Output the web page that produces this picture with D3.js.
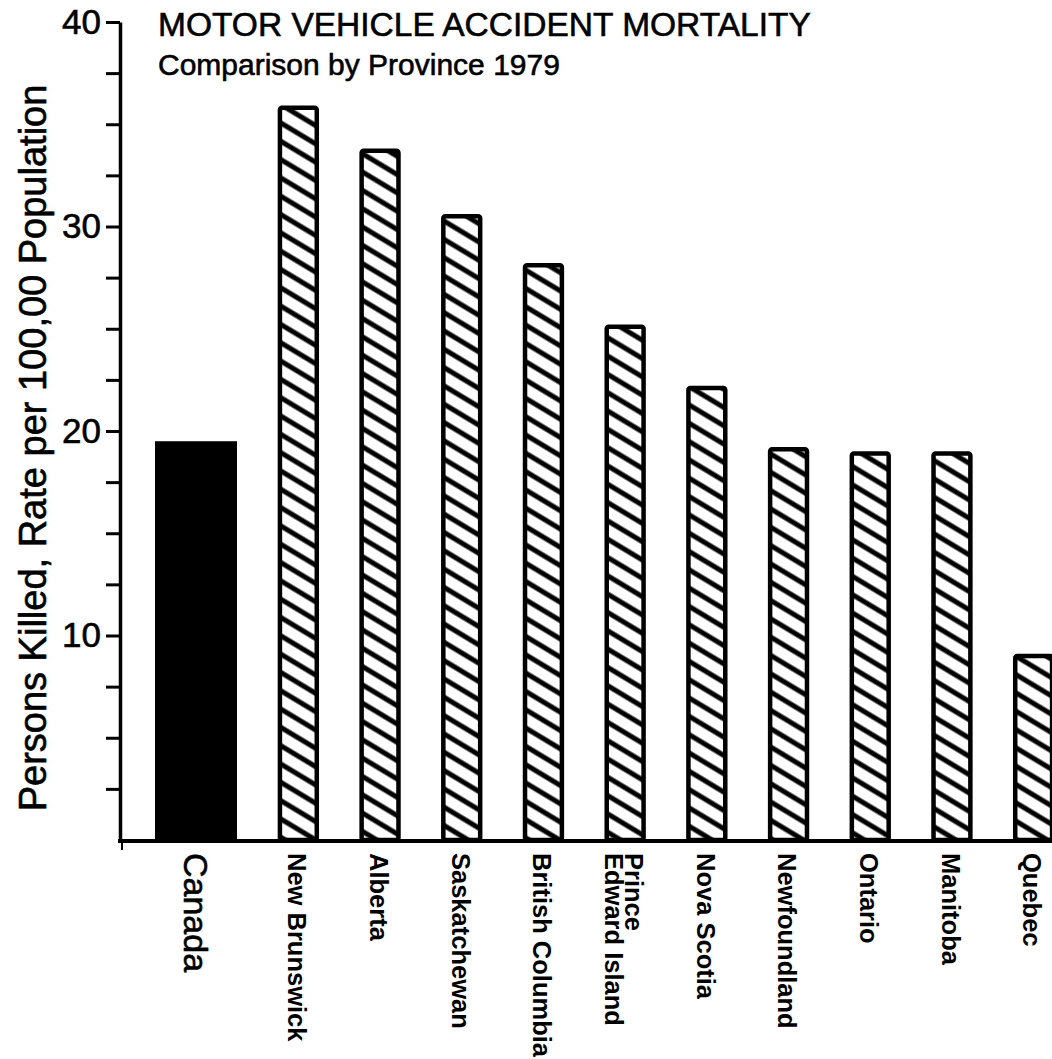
<!DOCTYPE html>
<html>
<head>
<meta charset="utf-8">
<script src="https://cdn.jsdelivr.net/npm/d3@7"></script>
<style>
  html, body { margin: 0; padding: 0; background: #fff; }
  svg { display: block; font-family: "Liberation Sans", Arial, Helvetica, sans-serif; }
</style>
</head>
<body>
<svg id="chart" width="1052" height="1059"></svg>
<script>
// ---- data ----
const nationalCategory = ["Canada"];
const nationalValue = [19.5];
const provinces = ["New Brunswick", "Alberta", "Saskatchewan", "British Columbia",
  "Prince Edward Island", "Nova Scotia", "Newfoundland", "Ontario", "Manitoba", "Quebec"];
const provinceValues = [35.9, 33.8, 30.6, 28.2, 25.2, 22.2, 19.2, 19.0, 19.0, 9.1];
const provinceLabelLines = [["New Brunswick"], ["Alberta"], ["Saskatchewan"], ["British Columbia"],
  ["Prince", "Edward Island"], ["Nova Scotia"], ["Newfoundland"], ["Ontario"], ["Manitoba"], ["Quebec"]];
const yTickValues = [2.5, 5, 7.5, 10, 12.5, 15, 17.5, 20, 22.5, 25, 27.5, 30, 32.5, 35, 37.5, 40];
const yTickLabels = [10, 20, 30, 40];
const titleLines = ["MOTOR VEHICLE ACCIDENT MORTALITY", "Comparison by Province 1979"];
const yAxisTitle = "Persons Killed,  Rate per 100,00 Population";

// ---- layout ----
const svg = d3.select("#chart");
const y = d3.scaleLinear().domain([0, 40]).range([840, 22]);
const xProv = d3.scaleBand().domain(provinces).range([257.5, 1074.5]).paddingInner(0.5).paddingOuter(0.25);
const xCan = d3.scaleBand().domain(nationalCategory).range([155, 237]);

// hatch pattern
const defs = svg.append("defs");
const pat = defs.append("pattern")
  .attr("id", "hatch").attr("patternUnits", "userSpaceOnUse")
  .attr("width", 20).attr("height", 15.7)
  .attr("patternTransform", "rotate(31)");
pat.append("rect").attr("width", 20).attr("height", 15.7).attr("fill", "#fff");
pat.append("line").attr("x1", 0).attr("x2", 20).attr("y1", 7.85).attr("y2", 7.85)
  .attr("stroke", "#000").attr("stroke-width", 5);

// bars: Canada
svg.append("g").selectAll("rect").data(nationalCategory).join("rect")
  .attr("x", d => xCan(d)).attr("width", xCan.bandwidth())
  .attr("y", (d, i) => y(nationalValue[i])).attr("height", (d, i) => y(0) - y(nationalValue[i]))
  .attr("fill", "#000");

// bars: provinces
svg.append("g").selectAll("rect").data(provinces).join("rect")
  .attr("x", d => xProv(d) + 2).attr("width", xProv.bandwidth() - 4)
  .attr("y", (d, i) => y(provinceValues[i]) + 2)
  .attr("height", (d, i) => y(0) - y(provinceValues[i]) - 2)
  .attr("rx", 2)
  .attr("fill", "url(#hatch)").attr("stroke", "#000").attr("stroke-width", 4.5);

// y axis
const yAxis = d3.axisLeft(y).tickValues(yTickValues)
  .tickFormat(d => yTickLabels.includes(d) ? d : "")
  .tickSize(14).tickPadding(5).tickSizeOuter(0);
const gy = svg.append("g").attr("transform", "translate(120,0)").call(yAxis);
gy.select(".domain").attr("stroke-width", 3.5).attr("stroke", "#000");
gy.selectAll(".tick line").attr("stroke-width", 3).attr("stroke", "#000");
gy.selectAll(".tick text").attr("font-size", 35).attr("fill", "#000")
  .attr("stroke", "#000").attr("stroke-width", 0.6)
  .attr("font-family", "Liberation Sans, Arial, sans-serif");

// x axis baseline
svg.append("line").attr("x1", 118).attr("x2", 1052).attr("y1", y(0) + 1).attr("y2", y(0) + 1)
  .attr("stroke", "#000").attr("stroke-width", 4);
svg.append("line").attr("x1", 122).attr("x2", 122).attr("y1", y(0) + 2).attr("y2", y(0) + 10)
  .attr("stroke", "#000").attr("stroke-width", 2);

// x labels
svg.append("g").selectAll("text").data(nationalCategory).join("text")
  .attr("transform", d => `translate(${xCan(d) + xCan.bandwidth() / 2},853) rotate(90)`)
  .attr("dy", "0.36em").attr("font-size", 34).attr("fill", "#000")
  .attr("stroke", "#000").attr("stroke-width", 0.6).text(d => d);

const pl = svg.append("g").selectAll("text").data(provinces).join("text")
  .attr("transform", d => `translate(${xProv(d) + xProv.bandwidth() / 2 - 1},853) rotate(90)`)
  .attr("font-size", 25.5).attr("font-weight", "bold").attr("fill", "#000");
pl.each(function (d, i) {
  const lines = provinceLabelLines[i];
  const n = lines.length;
  d3.select(this).selectAll("tspan").data(lines).join("tspan")
    .attr("x", 0)
    .attr("y", (t, j) => (j - (n - 1) / 2) * 20)
    .attr("dy", "0.36em")
    .text(t => t);
});

// title
svg.append("g").selectAll("text").data(titleLines).join("text")
  .attr("x", 158).attr("y", (d, i) => i === 0 ? 36 : 75)
  .attr("font-size", (d, i) => i === 0 ? 33.5 : 30).attr("fill", "#000")
  .attr("stroke", "#000").attr("stroke-width", 0.6)
  .text(d => d);

// y axis title
svg.append("text").attr("transform", "translate(32,448) rotate(-90)")
  .attr("text-anchor", "middle").attr("dy", "0.36em")
  .attr("font-size", 38).attr("fill", "#000")
  .attr("stroke", "#000").attr("stroke-width", 0.6).text(yAxisTitle);
</script>
</body>
</html>
